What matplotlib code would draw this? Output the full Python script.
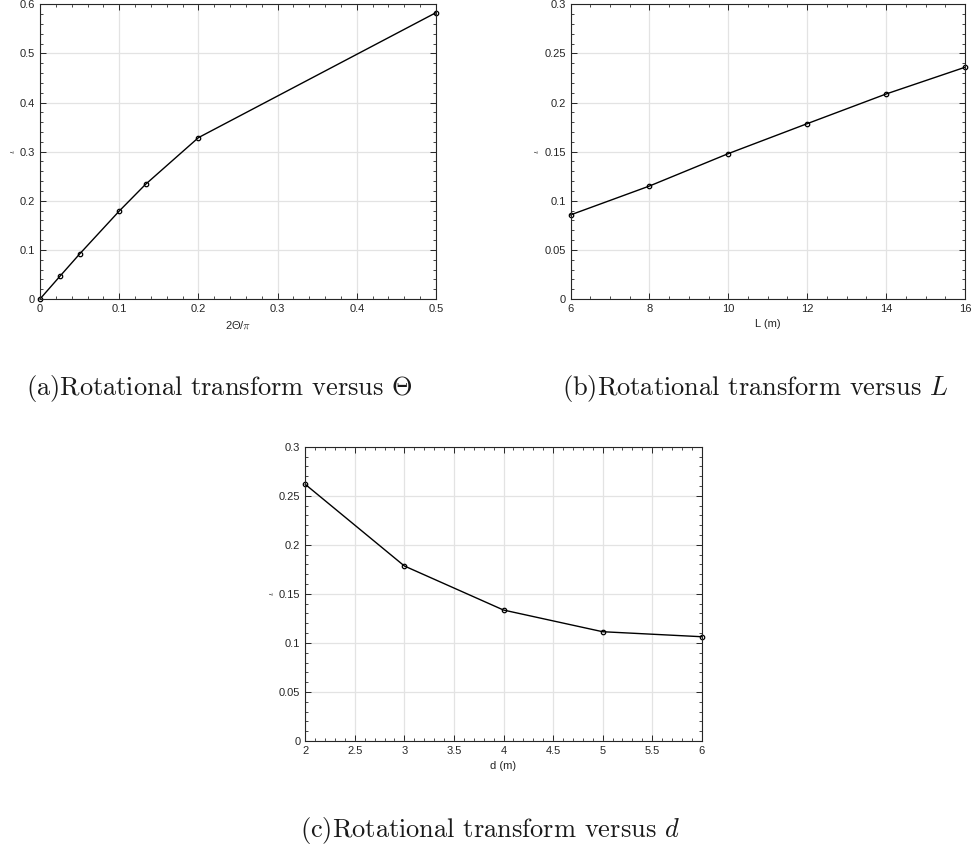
import matplotlib
matplotlib.use("Agg")
import matplotlib.pyplot as plt
from matplotlib.ticker import MultipleLocator, FuncFormatter

plt.rcParams['mathtext.fontset'] = 'cm'
plt.rcParams['font.family'] = ['Liberation Sans', 'DejaVu Sans']

# Data
theta_x = [0, 0.025, 0.05, 0.1, 0.1333, 0.2, 0.5]
theta_iota = [0.0, 0.046, 0.0916, 0.179, 0.2335, 0.3285, 0.583]

L_x = [6, 8, 10, 12, 14, 16]
L_iota = [0.0856, 0.1150, 0.148, 0.1785, 0.2087, 0.2359]

d_x = [2, 3, 4, 5, 6]
d_iota = [0.2616, 0.1784, 0.1335, 0.1114, 0.1063]

W, H = 972, 847
fig = plt.figure(figsize=(W / 100, H / 100), dpi=100)

TXT = '#262626'

def make_ax(px_left, px_top, px_right, px_bottom):
    return fig.add_axes([px_left / W, 1 - px_bottom / H,
                         (px_right - px_left) / W, (px_bottom - px_top) / H])

def fmt(v, pos):
    return '%g' % round(v, 6)

def style(ax, xlim, ylim, xmaj, xmin, ymaj, ymin, xlabel):
    ax.set_xlim(*xlim)
    ax.set_ylim(*ylim)
    ax.xaxis.set_major_locator(MultipleLocator(xmaj))
    ax.xaxis.set_minor_locator(MultipleLocator(xmin))
    ax.yaxis.set_major_locator(MultipleLocator(ymaj))
    ax.yaxis.set_minor_locator(MultipleLocator(ymin))
    ax.xaxis.set_major_formatter(FuncFormatter(fmt))
    ax.yaxis.set_major_formatter(FuncFormatter(fmt))
    ax.grid(True, which='major', color='#e3e3e3', linewidth=0.9)
    ax.set_axisbelow(True)
    ax.tick_params(which='both', direction='in', top=True, right=True,
                   colors=TXT, labelsize=8, labelcolor=TXT)
    ax.tick_params(which='major', length=4, width=0.7)
    ax.tick_params(which='minor', length=2.2, width=0.6)
    for s in ax.spines.values():
        s.set_color(TXT)
        s.set_linewidth(0.8)
    ax.set_xlabel(xlabel, fontsize=8, color=TXT, labelpad=4)
    ax.set_ylabel(r'$\iota$', fontsize=7, color=TXT, labelpad=2)

line_kw = dict(color='black', linewidth=1, marker='o', markersize=3.2,
               mfc='none', mec='black', mew=0.9, clip_on=False)

# (a)
ax1 = make_ax(40, 4.3, 436, 299)
ax1.plot(theta_x, theta_iota, **line_kw)
style(ax1, (0, 0.5), (0, 0.6), 0.1, 0.02, 0.1, 0.02, r'2Θ/$\pi$')

# (b)
ax2 = make_ax(570.5, 4.3, 965, 299)
ax2.plot(L_x, L_iota, **line_kw)
style(ax2, (6, 16), (0, 0.3), 2, 0.5, 0.05, 0.01, 'L (m)')

# (c)
ax3 = make_ax(305.3, 446.7, 701.7, 741)
ax3.plot(d_x, d_iota, **line_kw)
style(ax3, (2, 6), (0, 0.3), 0.5, 0.1, 0.05, 0.01, 'd (m)')

cap_kw = dict(fontsize=19, family='cmr10', color='#1a1a1a',
              ha='center', va='center')
fig.text(219 / W, 1 - 388 / H, r'(a)Rotational transform versus $\Theta$', **cap_kw)
fig.text(755.5 / W, 1 - 388 / H, r'(b)Rotational transform versus $L$', **cap_kw)
fig.text(490 / W, 1 - 830 / H, r'(c)Rotational transform versus $d$', **cap_kw)

fig.savefig('out.png', dpi=100)
